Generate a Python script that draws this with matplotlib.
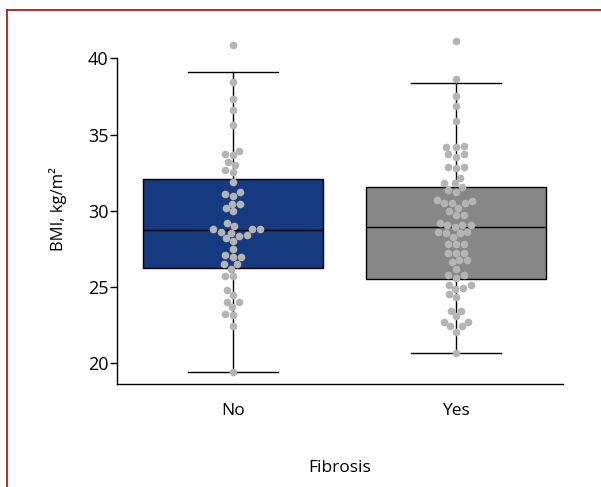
import numpy as np
import pandas as pd
import matplotlib
matplotlib.use("Agg")
import matplotlib.pyplot as plt
from matplotlib.lines import Line2D
import seaborn as sns

plt.rcParams['font.family'] = ['Open Sans', 'DejaVu Sans']

# --- data ---
groups = ["No", "Yes"]

bmi_no = [40.89, 38.43, 37.31, 36.63, 35.65, 33.94, 33.72, 33.64, 33.20, 33.02,
          32.70, 32.54, 31.89, 31.25, 31.12, 30.99, 30.47, 30.47, 30.20, 29.97,
          29.18, 29.02, 28.79, 28.79, 28.79, 28.60, 28.55, 28.40, 28.35, 28.20,
          28.00, 27.47, 27.12, 26.97, 26.95, 26.51, 26.51, 26.20, 25.72, 25.72,
          24.78, 24.48, 24.04, 24.00, 23.67, 23.23, 23.17, 22.47, 19.41]

bmi_yes = [41.13, 38.67, 37.53, 36.87, 35.89, 34.15, 34.20, 34.22, 33.72, 33.72,
           33.55, 32.85, 32.85, 32.80, 32.17, 31.80, 31.80, 31.56, 31.36, 31.23,
           30.71, 30.64, 30.51, 30.51, 30.51, 30.20, 29.98, 29.72, 29.72, 29.22,
           29.07, 29.07, 29.07, 28.92, 28.63, 28.63, 28.52, 28.52, 28.26, 27.82,
           27.82, 27.80, 27.25, 27.25, 27.25, 26.77, 26.77, 26.62, 26.20, 25.77,
           25.77, 25.60, 25.13, 25.13, 24.96, 24.85, 24.57, 24.35, 23.45, 23.45,
           23.08, 22.69, 22.69, 22.43, 22.43, 22.07, 20.68]

# box summary (as drawn in the reference)
q1 = [26.27, 25.53]
med = [28.72, 28.96]
q3 = [32.07, 31.58]
whis_lo = [19.43, 20.66]
whis_hi = [39.08, 38.38]
box_colors = ["#163a7f", "#878787"]

df = pd.DataFrame({
    "Fibrosis": ["No"] * len(bmi_no) + ["Yes"] * len(bmi_yes),
    "BMI": bmi_no + bmi_yes,
})

fig = plt.figure(figsize=(6.01, 4.87), dpi=100)
ax = fig.add_axes([0.1947, 0.2115, 0.7421, 0.7189])

stats = []
for i, g in enumerate(groups):
    stats.append(dict(label=g, q1=q1[i], med=med[i], q3=q3[i],
                      whislo=whis_lo[i], whishi=whis_hi[i], fliers=[]))

bp = ax.bxp(stats, positions=[0, 1], widths=0.81, patch_artist=True,
            showfliers=False,
            boxprops=dict(linewidth=1.0, edgecolor="black"),
            medianprops=dict(color="black", linewidth=1.0),
            whiskerprops=dict(color="black", linewidth=1.0),
            capprops=dict(color="black", linewidth=1.0),
            zorder=1)
for patch, c in zip(bp["boxes"], box_colors):
    patch.set_facecolor(c)

sns.swarmplot(data=df, x="Fibrosis", y="BMI", order=groups, color="#b4b4b4",
              size=5.5, ax=ax, zorder=3, linewidth=0)

ax.set_xlim(-0.52, 1.48)
ax.set_ylim(18.64, 41.6)
ax.set_yticks([20, 25, 30, 35, 40])
ax.set_xticks([0, 1])
ax.set_xticklabels(groups)

ax.spines["top"].set_visible(False)
ax.spines["right"].set_visible(False)
ax.spines["left"].set_bounds(18.64, 40)
ax.spines["left"].set_linewidth(1.0)
ax.spines["bottom"].set_linewidth(1.0)

ax.tick_params(axis="y", length=5, width=1.0, pad=1, labelsize=13)
ax.tick_params(axis="x", length=0, pad=14, labelsize=12.5)

ax.set_xlabel("Fibrosis", fontsize=12.5, labelpad=29)
ax.set_ylabel("BMI, kg/m²", fontsize=12, labelpad=15)

# dark red frame (left and top edges)
fig.add_artist(Line2D([7 / 601, 7 / 601], [0, 1 - 9.6 / 487],
                      transform=fig.transFigure, color="#b01c1c", linewidth=1.3))
fig.add_artist(Line2D([7 / 601, 1], [1 - 9.6 / 487, 1 - 9.6 / 487],
                      transform=fig.transFigure, color="#b01c1c", linewidth=1.3))

fig.savefig("out.png", dpi=100)
